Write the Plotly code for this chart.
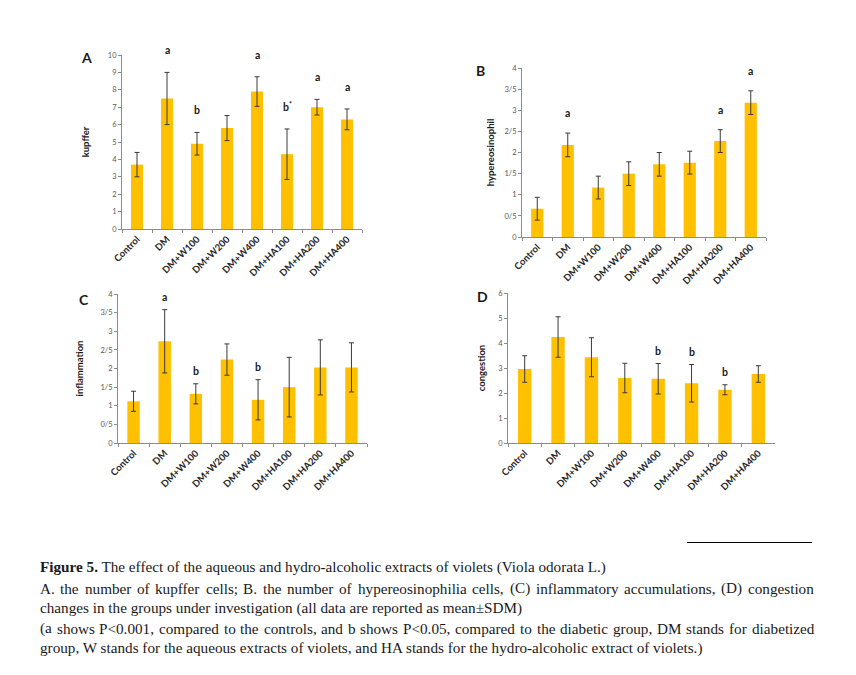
import plotly.graph_objects as go

# ---------------- data ----------------
categories = ["Control", "DM", "DM+W100", "DM+W200", "DM+W400", "DM+HA100", "DM+HA200", "DM+HA400"]

kupffer_mean = [3.7, 7.5, 4.9, 5.8, 7.9, 4.3, 7.0, 6.3]
kupffer_sd = [0.7, 1.5, 0.65, 0.72, 0.85, 1.45, 0.45, 0.6]
kupffer_sig = ["", "a", "b", "", "a", "b<sup>*</sup>", "a", "a"]

hyper_mean = [0.67, 2.18, 1.17, 1.5, 1.72, 1.76, 2.27, 3.18]
hyper_sd = [0.27, 0.28, 0.27, 0.28, 0.28, 0.27, 0.27, 0.28]
hyper_sig = ["", "a", "", "", "", "", "a", "a"]

infl_mean = [1.12, 2.73, 1.32, 2.24, 1.16, 1.5, 2.03, 2.03]
infl_sd = [0.27, 0.85, 0.27, 0.42, 0.54, 0.8, 0.74, 0.66]
infl_sig = ["", "a", "b", "", "b", "", "", ""]

cong_mean = [2.96, 4.24, 3.43, 2.6, 2.57, 2.39, 2.13, 2.76]
cong_sd = [0.53, 0.81, 0.78, 0.59, 0.61, 0.75, 0.2, 0.33]
cong_sig = ["", "", "", "", "b", "b", "b", ""]

ticks_10 = list(range(0, 11))
ticks_10_text = [str(v) for v in ticks_10]
ticks_half = [0, 0.5, 1, 1.5, 2, 2.5, 3, 3.5, 4]
ticks_half_text = ["0", "0/5", "1", "1/5", "2", "2/5", "3", "3/5", "4"]
ticks_6 = list(range(0, 7))
ticks_6_text = [str(v) for v in ticks_6]

caption_line1 = "<b>Figure 5.</b> The effect of the aqueous and hydro-alcoholic extracts of violets (Viola odorata L.)"
caption_line2 = ("A. the number of kupffer cells; B. the number of hypereosinophilia cells, "
                 "(C) inflammatory accumulations, (D) congestion")
caption_line3 = "changes in the groups under investigation (all data are reported as mean\u00b1SDM)"
caption_line4 = ("(a shows P<0.001, compared to the controls, and b shows P<0.05, "
                 "compared to the diabetic group, DM stands for diabetized")
caption_line5 = "group, W stands for the aqueous extracts of violets, and HA stands for the hydro-alcoholic extract of violets.)"

# ---------------- layout helpers ----------------
# the page body has an 8px margin, so the figure is drawn 8px in from the corner
OFF = 8
W, H = 856 - OFF, 675 - OFF


def px_x(px):
    return (px - OFF) / W


def px_y(py):
    return 1 - (py - OFF) / H


BAR = "#FFC000"
AXIS = "#8c8c8c"
TICKC = "#595959"
CHART_FONT = "Lato"

panels = [
    dict(key="A", mean=kupffer_mean, sd=kupffer_sd, sig=kupffer_sig, title="kupffer",
         tv=ticks_10, tt=ticks_10_text, rng=[0, 10], box=(122, 362, 55, 229),
         letter=(86, 58), standoff=16, sigshift=22),
    dict(key="B", mean=hyper_mean, sd=hyper_sd, sig=hyper_sig, title="hypereosinophil",
         tv=ticks_half, tt=ticks_half_text, rng=[0, 4], box=(522, 766, 68, 237),
         letter=(480, 71), standoff=8, sigshift=20),
    dict(key="C", mean=infl_mean, sd=infl_sd, sig=infl_sig, title="inflammation",
         tv=ticks_half, tt=ticks_half_text, rng=[0, 4], box=(118, 367, 294, 443),
         letter=(84, 299), standoff=15, sigshift=13),
    dict(key="D", mean=cong_mean, sd=cong_sd, sig=cong_sig, title="congestion",
         tv=ticks_6, tt=ticks_6_text, rng=[0, 6], box=(508, 775, 293, 443),
         letter=(482, 297), standoff=10, sigshift=13),
]

fig = go.Figure()
annotations = []
layout_axes = {}

for i, p in enumerate(panels, start=1):
    xa = "x" if i == 1 else f"x{i}"
    ya = "y" if i == 1 else f"y{i}"
    fig.add_trace(go.Bar(
        x=categories, y=p["mean"], xaxis=xa, yaxis=ya,
        marker=dict(color=BAR, line=dict(width=0)),
        error_y=dict(type="data", array=p["sd"], visible=True,
                     color="#3a3a3a", thickness=1, width=2.5),
        showlegend=False, hoverinfo="x+y",
    ))
    x0, x1, y0, y1 = p["box"]
    xkey = "xaxis" if i == 1 else f"xaxis{i}"
    ykey = "yaxis" if i == 1 else f"yaxis{i}"
    layout_axes[xkey] = dict(
        domain=[px_x(x0), px_x(x1)], anchor=ya, type="category",
        showline=True, linecolor=AXIS, linewidth=1, showgrid=False, zeroline=False,
        ticks="outside", tickson="boundaries", ticklen=3, tickcolor=AXIS,
        tickangle=-45, tickfont=dict(family=CHART_FONT, size=9.5, color="#262626", weight="bold"),
        automargin=False,
    )
    layout_axes[ykey] = dict(
        domain=[px_y(y1), px_y(y0)], anchor=xa, range=p["rng"],
        tickvals=p["tv"], ticktext=p["tt"],
        showline=True, linecolor=AXIS, linewidth=1, showgrid=False, zeroline=False,
        ticks="outside", ticklen=3, tickcolor=AXIS,
        tickfont=dict(family=CHART_FONT, size=7.5, color=TICKC),
        title=dict(text=p["title"], standoff=p["standoff"],
                   font=dict(family=CHART_FONT, size=9.5, color="#1a1a1a", weight="bold")),
        automargin=False,
    )
    for c, m, s, lab in zip(categories, p["mean"], p["sd"], p["sig"]):
        if lab:
            annotations.append(dict(
                x=c, y=m + s, xref=xa, yref=ya, text=lab, showarrow=False,
                yanchor="middle", yshift=p["sigshift"],
                font=dict(family=CHART_FONT, size=10.5, color="#1a1a1a", weight="bold"),
            ))
    lx, ly = p["letter"]
    annotations.append(dict(
        x=px_x(lx), y=px_y(ly), xref="paper", yref="paper", text=f"<b>{p['key']}</b>",
        showarrow=False, xanchor="center", yanchor="middle",
        font=dict(family=CHART_FONT, size=14, color="#1a1a1a"),
    ))

# ---------------- caption ----------------
CAP_SIZE = 15.2
CAP_FONT = dict(family="Liberation Serif", size=CAP_SIZE, color="#1a1a1a")
line_y = [567, 588, 608, 628, 648]
LEFT, RIGHT = 38, 812

# Times / Liberation Serif advance widths (1/1000 em) for justifying lines
TW = {' ': 250, '!': 333, '(': 333, ')': 333, ',': 250, '-': 333, '.': 250, '/': 278,
      ';': 278, '<': 564, '>': 564, '=': 564, '\u00b1': 564}
for ch in "0123456789":
    TW[ch] = 500
TW.update(dict(zip("ABCDEFGHIJKLMNOPQRSTUVWXYZ",
                   [722, 667, 667, 722, 611, 556, 722, 722, 333, 389, 722, 611, 889,
                    722, 722, 556, 722, 667, 556, 611, 722, 722, 944, 722, 722, 611])))
TW.update(dict(zip("abcdefghijklmnopqrstuvwxyz",
                   [444, 500, 444, 500, 444, 333, 500, 500, 278, 278, 500, 278, 778,
                    500, 500, 500, 500, 333, 389, 278, 500, 500, 722, 500, 500, 444])))


def text_w(s):
    return sum(TW.get(ch, 500) for ch in s) * CAP_SIZE / 1000.0


def cap(text, xpx, ypx, anchor="left"):
    annotations.append(dict(
        x=px_x(xpx), y=px_y(ypx), xref="paper", yref="paper", text=text,
        showarrow=False, xanchor=anchor, yanchor="middle", font=CAP_FONT,
    ))


def cap_justified(line, ypx):
    words = line.split(" ")
    widths = [text_w(w) for w in words]
    gap = (RIGHT - LEFT - sum(widths)) / (len(words) - 1)
    xpos = LEFT
    for w, wd in zip(words, widths):
        cap(w.replace("<", "&lt;"), xpos, ypx)
        xpos += wd + gap


cap(caption_line1, LEFT, line_y[0])
cap_justified(caption_line2, line_y[1])
cap(caption_line3, LEFT, line_y[2])
cap_justified(caption_line4, line_y[3])
cap(caption_line5, LEFT, line_y[4])

shapes = [dict(type="line", xref="paper", yref="paper",
               x0=px_x(687), x1=px_x(812), y0=px_y(542.5), y1=px_y(542.5),
               line=dict(color="#000000", width=1))]

fig.update_layout(
    width=W, height=H,
    margin=dict(l=0, r=0, t=0, b=0),
    paper_bgcolor="white", plot_bgcolor="white",
    bargap=0.6,
    annotations=annotations,
    shapes=shapes,
    showlegend=False,
    **layout_axes,
)

fig.write_html("out.html")
